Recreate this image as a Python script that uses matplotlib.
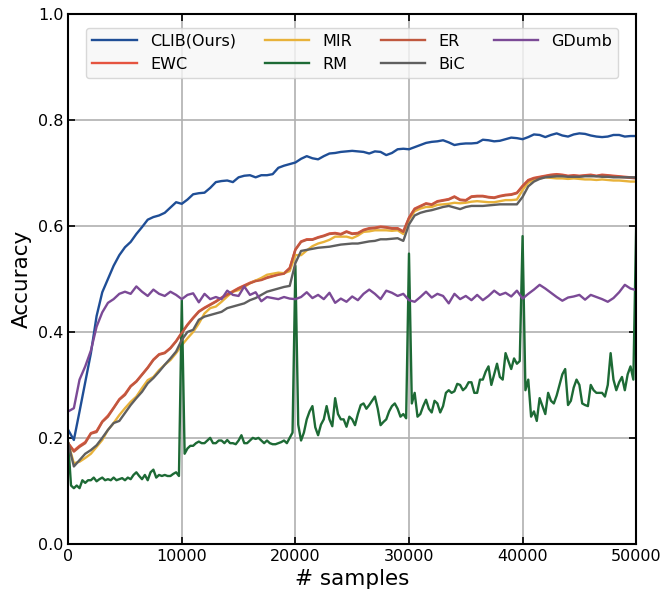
from matplotlib import pyplot as plt

# samples axis, one point every 500 samples (RM every 250)
x_500 = list(range(0, 50001, 500))
x_250 = list(range(0, 50001, 250))

clib = [0.215, 0.196, 0.25, 0.305, 0.36, 0.43, 0.475, 0.5, 0.525, 0.545,
        0.56, 0.57, 0.585, 0.598, 0.612, 0.617, 0.62, 0.625, 0.635, 0.645,
        0.642, 0.65, 0.66, 0.662, 0.663, 0.672, 0.683, 0.685, 0.686, 0.683,
        0.692, 0.695, 0.696, 0.692, 0.696, 0.696, 0.698, 0.71, 0.714, 0.717,
        0.72, 0.727, 0.732, 0.728, 0.726, 0.732, 0.737, 0.738, 0.74, 0.741,
        0.742, 0.741, 0.74, 0.737, 0.741, 0.74, 0.734, 0.738, 0.745, 0.746,
        0.745, 0.749, 0.753, 0.757, 0.759, 0.76, 0.762, 0.758, 0.753, 0.755,
        0.756, 0.756, 0.757, 0.763, 0.762, 0.76, 0.761, 0.764, 0.767, 0.766,
        0.764, 0.768, 0.773, 0.772, 0.768, 0.772, 0.775, 0.771, 0.769, 0.773,
        0.775, 0.774, 0.771, 0.769, 0.768, 0.769, 0.772, 0.772, 0.769, 0.77,
        0.77]

ewc = [0.19, 0.176, 0.185, 0.192, 0.209, 0.213, 0.231, 0.242, 0.257, 0.273,
       0.283, 0.298, 0.307, 0.32, 0.333, 0.348, 0.358, 0.361, 0.37, 0.383,
       0.399, 0.414, 0.427, 0.439, 0.446, 0.452, 0.458, 0.465, 0.471, 0.477,
       0.483, 0.488, 0.493, 0.497, 0.499, 0.503, 0.506, 0.509, 0.511, 0.521,
       0.556, 0.571, 0.575, 0.575, 0.579, 0.582, 0.586, 0.587, 0.585, 0.59,
       0.586, 0.587, 0.593, 0.596, 0.597, 0.599, 0.598, 0.596, 0.596, 0.59,
       0.616, 0.633, 0.638, 0.643, 0.641, 0.647, 0.649, 0.651, 0.656, 0.65,
       0.649, 0.656, 0.657, 0.657, 0.655, 0.654, 0.657, 0.659, 0.66, 0.663,
       0.676, 0.687, 0.691, 0.693, 0.695, 0.697, 0.698, 0.697, 0.695, 0.696,
       0.695, 0.696, 0.697, 0.695, 0.697, 0.696, 0.695, 0.694, 0.693, 0.692,
       0.691]

mir = [0.19, 0.152, 0.155, 0.162, 0.17, 0.183, 0.196, 0.215, 0.228, 0.243,
       0.256, 0.268, 0.278, 0.294, 0.309, 0.315, 0.328, 0.338, 0.347, 0.36,
       0.375, 0.388, 0.4, 0.416, 0.435, 0.445, 0.448, 0.457, 0.467, 0.476,
       0.479, 0.485, 0.492, 0.497, 0.502, 0.508, 0.51, 0.512, 0.511, 0.515,
       0.545, 0.545, 0.554, 0.562, 0.567, 0.57, 0.574, 0.58, 0.58, 0.58,
       0.577, 0.582, 0.589, 0.59, 0.592, 0.592, 0.592, 0.591, 0.592, 0.585,
       0.612, 0.628, 0.633, 0.636, 0.636, 0.64, 0.641, 0.642, 0.644, 0.643,
       0.644, 0.646, 0.647, 0.646, 0.645, 0.645, 0.647, 0.649, 0.649, 0.65,
       0.668, 0.682, 0.687, 0.69, 0.692, 0.691, 0.69, 0.69, 0.689, 0.69,
       0.689, 0.688, 0.688, 0.687, 0.688, 0.687, 0.686, 0.686, 0.685, 0.684,
       0.684]

rm = [0.19, 0.11, 0.105, 0.11, 0.105, 0.12, 0.115, 0.12, 0.12, 0.125,
      0.118, 0.122, 0.125, 0.12, 0.122, 0.12, 0.125, 0.12, 0.122, 0.124,
      0.12, 0.125, 0.122, 0.13, 0.135, 0.128, 0.122, 0.13, 0.12, 0.135,
      0.14, 0.125, 0.13, 0.128, 0.13, 0.128, 0.128, 0.132, 0.135, 0.128,
      0.46, 0.17, 0.18, 0.185, 0.185, 0.19, 0.193, 0.19, 0.19, 0.195,
      0.2, 0.19, 0.19, 0.195, 0.195, 0.19, 0.196, 0.19, 0.19, 0.188,
      0.195, 0.205, 0.19, 0.19, 0.195, 0.2, 0.198, 0.2, 0.195, 0.19,
      0.195, 0.19, 0.188, 0.188, 0.19, 0.192, 0.195, 0.19, 0.2, 0.21,
      0.525, 0.225, 0.195, 0.21, 0.235, 0.25, 0.26, 0.22, 0.205, 0.225,
      0.235, 0.26, 0.235, 0.222, 0.275, 0.245, 0.235, 0.235, 0.221, 0.24,
      0.235, 0.224, 0.245, 0.262, 0.265, 0.255, 0.262, 0.27, 0.278, 0.255,
      0.224, 0.23, 0.235, 0.25, 0.26, 0.265, 0.255, 0.24, 0.245, 0.237,
      0.548, 0.265, 0.285, 0.24, 0.245, 0.26, 0.272, 0.255, 0.248, 0.27,
      0.265, 0.248, 0.26, 0.285, 0.29, 0.285, 0.288, 0.302, 0.3, 0.29,
      0.295, 0.305, 0.305, 0.285, 0.285, 0.31, 0.31, 0.325, 0.335, 0.3,
      0.32, 0.34, 0.315, 0.31, 0.36, 0.345, 0.33, 0.35, 0.34, 0.345,
      0.581, 0.29, 0.31, 0.24, 0.25, 0.232, 0.275, 0.26, 0.245, 0.285,
      0.27, 0.265, 0.28, 0.3, 0.32, 0.33, 0.262, 0.27, 0.295, 0.31,
      0.3, 0.265, 0.262, 0.26, 0.3, 0.29, 0.285, 0.285, 0.285, 0.278,
      0.3, 0.36, 0.31, 0.29, 0.305, 0.315, 0.29, 0.32, 0.335, 0.31,
      0.6]

er = [0.19, 0.174, 0.183, 0.19, 0.208, 0.211, 0.23, 0.24, 0.256, 0.272,
      0.281, 0.297, 0.306, 0.319, 0.332, 0.347, 0.357, 0.36, 0.369, 0.382,
      0.398, 0.413, 0.426, 0.438, 0.445, 0.451, 0.457, 0.464, 0.47, 0.476,
      0.482, 0.487, 0.492, 0.496, 0.498, 0.502, 0.505, 0.508, 0.51, 0.52,
      0.555, 0.57, 0.574, 0.574, 0.578, 0.581, 0.585, 0.586, 0.584, 0.589,
      0.585, 0.586, 0.592, 0.595, 0.596, 0.598, 0.597, 0.595, 0.595, 0.589,
      0.615, 0.632, 0.637, 0.642, 0.64, 0.646, 0.648, 0.65, 0.655, 0.649,
      0.648, 0.655, 0.656, 0.656, 0.654, 0.653, 0.656, 0.658, 0.659, 0.662,
      0.675, 0.686, 0.69, 0.692, 0.694, 0.696, 0.697, 0.696, 0.694, 0.695,
      0.694, 0.695, 0.696, 0.694, 0.696, 0.695, 0.694, 0.693, 0.692, 0.691,
      0.69]

bic = [0.19, 0.146, 0.158, 0.17, 0.177, 0.186, 0.2, 0.215, 0.228, 0.232,
       0.247, 0.262, 0.275, 0.287, 0.303, 0.313, 0.325, 0.338, 0.35, 0.363,
       0.385, 0.4, 0.404, 0.423, 0.429, 0.432, 0.435, 0.438, 0.445, 0.448,
       0.451, 0.454, 0.46, 0.464, 0.47, 0.476, 0.479, 0.482, 0.485, 0.487,
       0.53, 0.553, 0.555, 0.557, 0.559, 0.56, 0.561, 0.563, 0.565, 0.566,
       0.567, 0.567, 0.569, 0.571, 0.572, 0.575, 0.575, 0.576, 0.577, 0.572,
       0.603, 0.62, 0.625, 0.628, 0.63, 0.633, 0.636, 0.638, 0.635, 0.632,
       0.636, 0.638, 0.638, 0.638, 0.639, 0.64, 0.641, 0.641, 0.641, 0.641,
       0.655, 0.675, 0.684, 0.689, 0.692, 0.693, 0.694, 0.694, 0.693, 0.693,
       0.693, 0.694, 0.694, 0.694, 0.693, 0.693, 0.692, 0.692, 0.692, 0.692,
       0.692]

gdumb = [0.25, 0.256, 0.31, 0.335, 0.365, 0.41, 0.437, 0.455, 0.462, 0.472,
         0.476, 0.472, 0.486, 0.476, 0.468, 0.48, 0.472, 0.468, 0.476, 0.47,
         0.462, 0.47, 0.473, 0.456, 0.472, 0.462, 0.466, 0.462, 0.478, 0.47,
         0.468, 0.486, 0.47, 0.475, 0.458, 0.466, 0.464, 0.462, 0.466, 0.463,
         0.462, 0.466, 0.475, 0.464, 0.47, 0.462, 0.474, 0.455, 0.463, 0.457,
         0.467, 0.46, 0.472, 0.48, 0.472, 0.462, 0.478, 0.474, 0.468, 0.472,
         0.46, 0.457, 0.466, 0.476, 0.465, 0.472, 0.468, 0.454, 0.472, 0.462,
         0.468, 0.46, 0.47, 0.46, 0.468, 0.478, 0.47, 0.474, 0.467, 0.478,
         0.463, 0.472, 0.48, 0.489, 0.482, 0.474, 0.466, 0.459, 0.465, 0.467,
         0.47, 0.461, 0.47, 0.466, 0.462, 0.457, 0.464, 0.475, 0.489, 0.482,
         0.479]

fig = plt.figure(figsize=(6.62, 5.93), dpi=100)
ax = fig.add_axes([0.103, 0.083, 0.858, 0.893])

ax.plot(x_500, clib, color='#1f4e96', lw=1.7, label='CLIB(Ours)')
ax.plot(x_500, ewc, color='#e5533f', lw=1.7, label='EWC')
ax.plot(x_500, mir, color='#e8b23a', lw=1.7, label='MIR')
ax.plot(x_250, rm, color='#1d6a35', lw=1.7, label='RM')
ax.plot(x_500, er, color='#c0583f', lw=1.7, label='ER')
ax.plot(x_500, bic, color='#5f5f5f', lw=1.7, label='BiC')
ax.plot(x_500, gdumb, color='#7b4a96', lw=1.7, label='GDumb')

ax.set_xlim(0, 50000)
ax.set_ylim(0, 1.0)
ax.set_xticks([0, 10000, 20000, 30000, 40000, 50000])
ax.set_yticks([0.0, 0.2, 0.4, 0.6, 0.8, 1.0])
ax.grid(True, color='#b0b0b0', lw=1.2)
ax.tick_params(direction='in', top=True, right=True, labelsize=11.5, length=5, width=1.2)
for s in ax.spines.values():
    s.set_linewidth(1.5)

ax.set_xlabel('# samples', fontsize=15.5)
ax.set_ylabel('Accuracy', fontsize=15.5)
ax.legend(ncol=4, loc='upper center', fontsize=11.5, bbox_to_anchor=(0.5, 0.99),
          handlelength=2.8, columnspacing=1.8, facecolor='#f7f7f7', edgecolor='#d0d0d0')

plt.savefig('out.png', dpi=100)
plt.close()
